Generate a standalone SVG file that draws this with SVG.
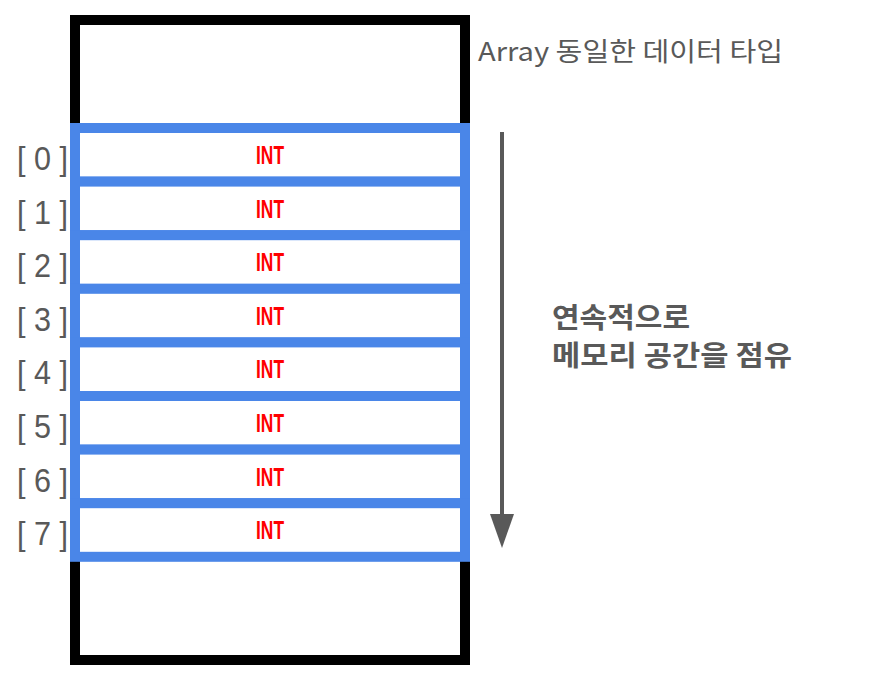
<svg xmlns="http://www.w3.org/2000/svg" width="876" height="673" viewBox="0 0 876 673">
<style>
.idx{font-family:"Liberation Sans",sans-serif;font-size:34px;fill:#595959}
.int{font-family:"Liberation Sans",sans-serif;font-size:26px;font-weight:bold;fill:#ff0000;text-anchor:middle}
.cell{fill:#ffffff;stroke:#4a86e8;stroke-width:10}
.note{font-family:"Noto Sans CJK KR","Liberation Sans",sans-serif;fill:#595959}
</style>
<defs>
<marker id="ah" viewBox="0 0 34 24" refX="2" refY="12" markerWidth="34" markerHeight="24" markerUnits="userSpaceOnUse" orient="auto">
<path d="M0,0 L34,12 L0,24 Z" fill="#595959"/>
</marker>
</defs>
<rect width="876" height="673" fill="#ffffff"/>
<g id="memory">
<rect x="75" y="20" width="390" height="640" fill="#ffffff" stroke="#000000" stroke-width="10"/>
</g>
<g id="cell0"><rect class="cell" x="75" y="128" width="390" height="53.6"/><text class="int" x="270" y="164" textLength="28" lengthAdjust="spacingAndGlyphs">INT</text><text class="idx" x="17" y="170" textLength="51" lengthAdjust="spacingAndGlyphs">[ 0 ]</text></g>
<g id="cell1"><rect class="cell" x="75" y="181.6" width="390" height="53.6"/><text class="int" x="270" y="217.6" textLength="28" lengthAdjust="spacingAndGlyphs">INT</text><text class="idx" x="17" y="223.6" textLength="51" lengthAdjust="spacingAndGlyphs">[ 1 ]</text></g>
<g id="cell2"><rect class="cell" x="75" y="235.2" width="390" height="53.6"/><text class="int" x="270" y="271.2" textLength="28" lengthAdjust="spacingAndGlyphs">INT</text><text class="idx" x="17" y="277.2" textLength="51" lengthAdjust="spacingAndGlyphs">[ 2 ]</text></g>
<g id="cell3"><rect class="cell" x="75" y="288.8" width="390" height="53.6"/><text class="int" x="270" y="324.8" textLength="28" lengthAdjust="spacingAndGlyphs">INT</text><text class="idx" x="17" y="330.8" textLength="51" lengthAdjust="spacingAndGlyphs">[ 3 ]</text></g>
<g id="cell4"><rect class="cell" x="75" y="342.4" width="390" height="53.6"/><text class="int" x="270" y="378.4" textLength="28" lengthAdjust="spacingAndGlyphs">INT</text><text class="idx" x="17" y="384.4" textLength="51" lengthAdjust="spacingAndGlyphs">[ 4 ]</text></g>
<g id="cell5"><rect class="cell" x="75" y="396" width="390" height="53.6"/><text class="int" x="270" y="432" textLength="28" lengthAdjust="spacingAndGlyphs">INT</text><text class="idx" x="17" y="438" textLength="51" lengthAdjust="spacingAndGlyphs">[ 5 ]</text></g>
<g id="cell6"><rect class="cell" x="75" y="449.6" width="390" height="53.6"/><text class="int" x="270" y="485.6" textLength="28" lengthAdjust="spacingAndGlyphs">INT</text><text class="idx" x="17" y="491.6" textLength="51" lengthAdjust="spacingAndGlyphs">[ 6 ]</text></g>
<g id="cell7"><rect class="cell" x="75" y="503.2" width="390" height="53.6"/><text class="int" x="270" y="539.2" textLength="28" lengthAdjust="spacingAndGlyphs">INT</text><text class="idx" x="17" y="545.2" textLength="51" lengthAdjust="spacingAndGlyphs">[ 7 ]</text></g>
<g id="title"><text class="note" x="478" y="61" font-size="26" textLength="305" lengthAdjust="spacingAndGlyphs">Array 동일한 데이터 타입</text></g>
<g id="connectors">
<line x1="502" y1="132" x2="502" y2="516" stroke="#595959" stroke-width="4" marker-end="url(#ah)"/>
</g>
<g id="note"><text class="note" font-size="28" font-weight="bold"><tspan x="552" y="328" textLength="138" lengthAdjust="spacingAndGlyphs">연속적으로</tspan><tspan x="552" y="366" textLength="240" lengthAdjust="spacingAndGlyphs">메모리 공간을 점유</tspan></text></g>
</svg>
